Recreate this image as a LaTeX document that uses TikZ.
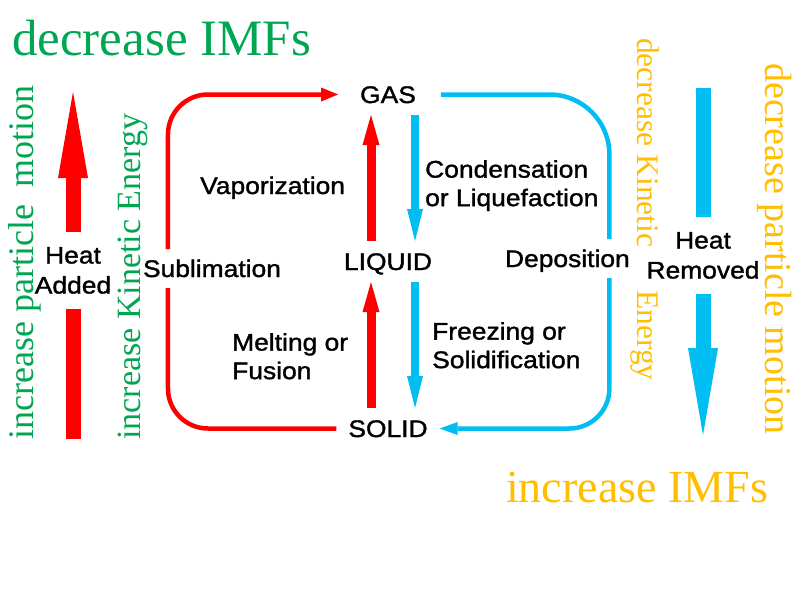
\documentclass[tikz,border=0pt]{standalone}
\usepackage{fontspec}
\setmainfont{Liberation Serif}
\newfontfamily\labelfont[FakeStretch=1.1,FakeBold=1.4]{Liberation Sans}
\usepackage{xcolor}
\usetikzlibrary{
    arrows.meta,
    calc,
    positioning
}
\definecolor{heatred}{RGB}{255,0,0}
\definecolor{coolblue}{RGB}{0,190,242}
\definecolor{imfgreen}{RGB}{0,166,81}
\definecolor{imforange}{RGB}{255,190,0}
\tikzset{
    phase/.style={font=\labelfont\fontsize{24}{28}\selectfont, text height=17pt, text depth=0pt, inner sep=0pt, outer sep=12pt},
    process/.style={font=\labelfont\fontsize{24}{28.5}\selectfont, align=left, inner sep=0pt},
    loopnote/.style={font=\labelfont\fontsize{24}{28}\selectfont, text height=17pt, text depth=0pt, inner sep=0pt, outer sep=11pt, anchor=base west},
    heatnote/.style={font=\labelfont\fontsize{24}{30}\selectfont, align=center, inner sep=0pt, outer sep=15pt, anchor=north},
    sidenote/.style={inner sep=0pt, anchor=base west},
    warm/.style={draw=heatred, line width=9pt, -{Triangle[width=17pt,length=30pt,line width=0pt]}},
    cool/.style={draw=coolblue, line width=8pt, -{Triangle[width=16pt,length=32pt,line width=0pt]}},
    warmloop/.style={draw=heatred, line width=4.5pt, rounded corners=40pt},
    coolloop/.style={draw=coolblue, line width=4.5pt},
    bigwarm/.style={draw=heatred, line width=15pt},
    bigcool/.style={draw=coolblue, line width=15pt}
}
\begin{document}
\begin{tikzpicture}[x=1pt, y=-1pt]
                        \fill[white] (0, 0) rectangle (800, 600);
                        \useasboundingbox (0, 0) rectangle (800, 600);

                        \node[sidenote, text=imfgreen, font=\fontsize{51}{56}\selectfont] (lessimf) at (12, 55) {decrease IMFs};
                        \node[sidenote, text=imforange, font=\fontsize{46}{50}\selectfont] (moreimf) at (506, 502) {increase IMFs};
                        \node[sidenote, rotate=90, text=imfgreen, font=\fontsize{36}{40}\selectfont] (motionup) at (33, 440) {increase particle\hspace{8pt} motion};
                        \node[sidenote, rotate=90, text=imfgreen, font=\fontsize{34}{38}\selectfont] (energyup) at (140, 440) {increase Kinetic Energy};
                        \node[sidenote, rotate=-90, text=imforange, font=\fontsize{31.5}{35}\selectfont] (energydown) at (637, 38) {decrease Kinetic\hspace{35pt} Energy};
                        \node[sidenote, rotate=-90, text=imforange, font=\fontsize{38}{42}\selectfont] (motiondown) at (765, 63) {decrease particle motion};

                        \node[phase] (gas) at (388, 94.5) {GAS};
                        \node[phase] (liquid) at (388, 261.5) {LIQUID};
                        \node[phase] (solid) at (388, 428.5) {SOLID};

                        \node[process, anchor=base west] (vapor) at (200, 194) {Vaporization};
                        \node[process, anchor=north west] (melt) at (232, 333) {Melting or\\Fusion};
                        \node[process, anchor=north west] (condense) at (425, 160) {Condensation\\or Liquefaction};
                        \node[process, anchor=north west] (freeze) at (432, 322) {Freezing or\\Solidification};
                        \node[loopnote] (sublim) at (132, 277) {Sublimation};
                        \node[loopnote] (depos) at (494, 267) {Deposition};

                        \node[heatnote] (added) at (73, 232) {Heat\\Added};
                        \node[heatnote] (removed) at (703, 217) {Heat\\Removed};
                        \coordinate (addtip) at (73, 92);
                        \coordinate (addfoot) at (73, 439);
                        \coordinate (rmtop) at (703, 88);
                        \coordinate (rmtip) at (703, 435);

                        \draw[warm] ([xshift=-17pt]liquid.north) -- ([xshift=-17pt]gas.south);
                        \draw[warm] ([xshift=-17pt]solid.north) -- ([xshift=-17pt]liquid.south);
                        \draw[cool] ([xshift=27pt]gas.south) -- ([xshift=27pt]liquid.north);
                        \draw[cool] ([xshift=27pt]liquid.south) -- ([xshift=27pt]solid.north);

                        \draw[warmloop] (solid.west) -| ([xshift=-44pt]sublim.south);
                        \draw[warmloop, -{Triangle[width=14pt,length=17pt,line width=0pt]}] ([xshift=-44pt]sublim.north) |- ([xshift=-10pt]gas.west);
                        \draw[coolloop, rounded corners=60pt] ([xshift=13pt]gas.east) -| ([xshift=42pt]depos.north);
                        \draw[coolloop, rounded corners=40pt, -{Triangle[width=13pt,length=18pt,line width=0pt]}] ([xshift=42pt]depos.south) |- (solid.east);

                        \draw[bigwarm, -{Triangle[width=30pt,length=86pt,line width=0pt]}] (added.north) -- (addtip);
                        \draw[bigwarm] (addfoot) -- (added.south);
                        \draw[bigcool] (rmtop) -- (removed.north);
                        \draw[bigcool, -{Triangle[width=30pt,length=87pt,line width=0pt]}] (removed.south) -- (rmtip);
                    \end{tikzpicture}
\end{document}
